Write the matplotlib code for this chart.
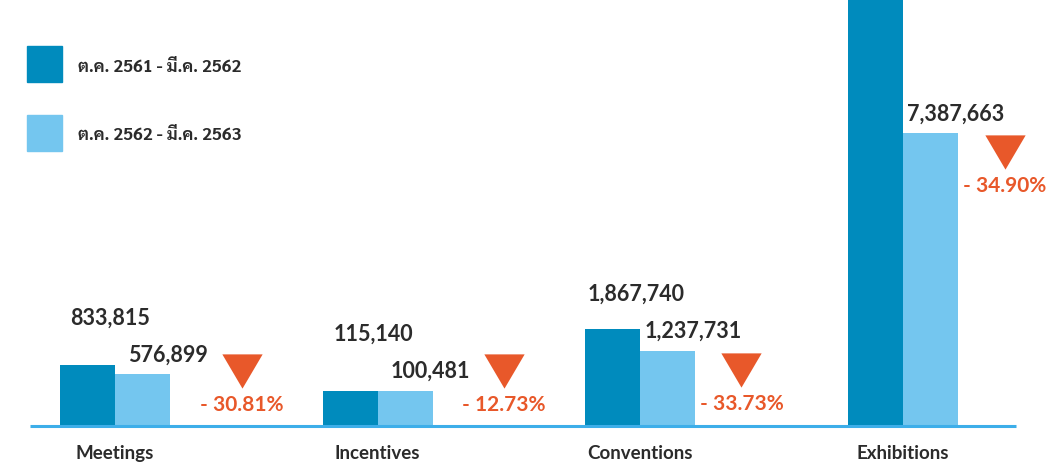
import matplotlib
matplotlib.use("Agg")
import matplotlib.pyplot as plt
from matplotlib.patches import Rectangle
import numpy as np

# data (ต.ค.-มี.ค. เปรียบเทียบ 2 ปี)
categories = ["Meetings", "Incentives", "Conventions", "Exhibitions"]
prev_year = [833815, 115140, 1867740, 11348177]   # Exhibitions: bar cut off at the top
this_year = [576899, 100481, 1237731, 7387663]
changes = ["- 30.81%", "- 12.73%", "- 33.73%", "- 34.90%"]
legend_labels = ["ต.ค. 2561 - มี.ค. 2562", "ต.ค. 2562 - มี.ค. 2563"]

DARK = "#008bbd"
LIGHT = "#74c6ef"
ORANGE = "#e8582a"
TXT = "#2b2b2b"
AXIS = "#3daee9"

W, H = 1046, 462
fig = plt.figure(figsize=(W / 100, H / 100), dpi=100)
ax = fig.add_axes([0, 0, 1, 1])
ax.set_axis_off()

# bars stand on a floor below zero (infographic style), linear scale
floor = -884000
ax.set_xlim(-0.4378, 3.544)
ax.set_ylim(-1901000, 11153000)

x = np.arange(len(categories))
bw = 0.2094
dark_vals = np.array(prev_year)
light_vals = np.array(this_year)
ax.bar(x - bw / 2, dark_vals - floor, bottom=floor, width=bw, color=DARK, zorder=2)
ax.bar(x + bw / 2, light_vals - floor, bottom=floor, width=bw, color=LIGHT, zorder=2)
ax.plot([-0.3235, 3.4316], [floor, floor], color=AXIS, lw=2.2, solid_capstyle="butt", zorder=3)

def px(xv, yv):
    return ax.transData.transform((xv, yv))

num_font = dict(family="Lato", weight="bold", fontsize=15.5, color=TXT)
tri_dx = [127, 126, 101, 102]

for i in range(len(categories)):
    # light value label
    lx, ly = px(x[i] + bw / 2, light_vals[i])
    light_bottom = ly + 9
    ax.annotate(f"{light_vals[i]:,}", xy=(lx + 25, light_bottom), xycoords="figure pixels",
                ha="center", va="bottom", **num_font)
    # dark value label: above bar and above light label (skip if bar leaves the picture)
    dx, dy = px(x[i] - bw / 2, dark_vals[i])
    dark_bottom = max(dy + 19, light_bottom + 37)
    if dark_bottom < H - 25:
        ax.annotate(f"{dark_vals[i]:,}", xy=(dx + 23, dark_bottom), xycoords="figure pixels",
                    ha="center", va="bottom", **num_font)
    # orange triangle + percent
    cx = px(x[i], 0)[0] + tri_dx[i]
    tri_top = max(ly - 2, px(0, 1160000)[1])
    ax.plot([cx], [tri_top - 17], marker=[(-1, 0.85), (1, 0.85), (0, -0.85)],
            markersize=29, color=ORANGE, mec="none", transform=None, zorder=4)
    ax.annotate(changes[i], xy=(cx, tri_top - 51), xycoords="figure pixels",
                ha="center", va="center", family="Lato", weight="bold", fontsize=15, color=ORANGE)
    # category label
    ax.annotate(categories[i], xy=(px(x[i], 0)[0], H - 445), xycoords="figure pixels",
                ha="center", va="top", family="Lato", weight="bold", fontsize=13.5, color=TXT)

# legend
for j, (col, lab) in enumerate(zip([DARK, LIGHT], legend_labels)):
    top = 46 + j * 69
    fig.add_artist(Rectangle((27 / W, 1 - (top + 36) / H), 35 / W, 36 / H,
                             transform=fig.transFigure, color=col))
    fig.text(78 / W, 1 - (top + 21) / H, lab, ha="left", va="center",
             family=["Sarabun", "Lato"], weight="bold", fontsize=12.5, color=TXT)

fig.savefig("out.png", dpi=100)
